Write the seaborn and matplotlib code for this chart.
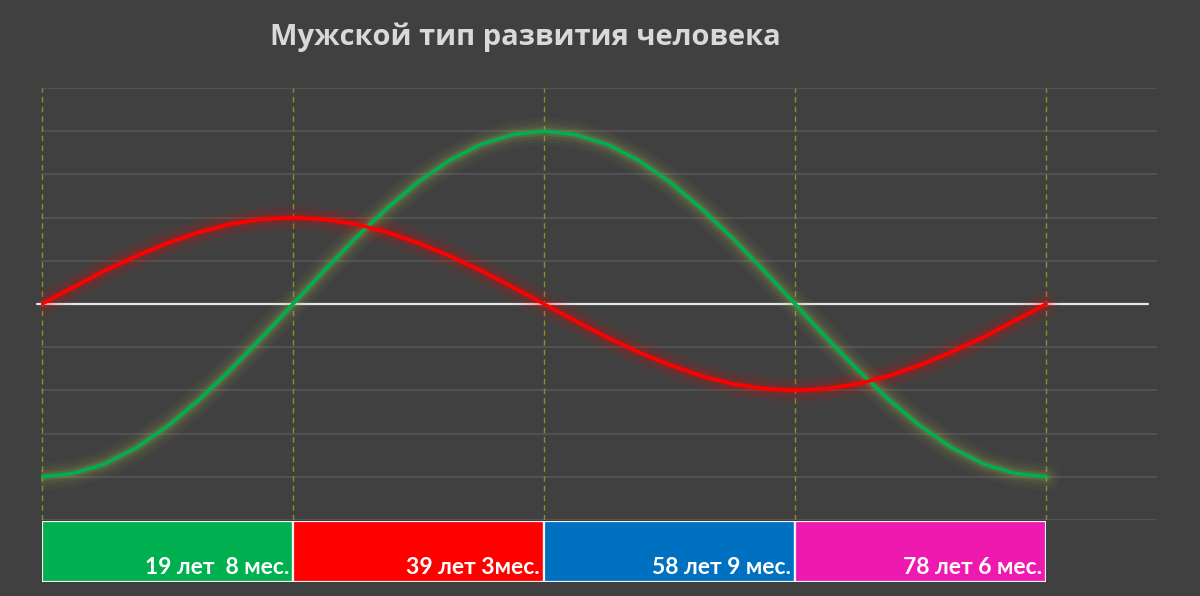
import numpy as np
import pandas as pd
import matplotlib
matplotlib.use("Agg")
import matplotlib.pyplot as plt
import seaborn as sns

# ---- data ----
phase = [i * 0.125 for i in range(33)]  # 0..4, one unit per life period
green_vals = [-4.00, -3.92, -3.70, -3.33, -2.83, -2.22, -1.53, -0.78, 0.00,
              0.78, 1.53, 2.22, 2.83, 3.33, 3.70, 3.92, 4.00,
              3.92, 3.70, 3.33, 2.83, 2.22, 1.53, 0.78, 0.00,
              -0.78, -1.53, -2.22, -2.83, -3.33, -3.70, -3.92, -4.00]
red_vals = [0.00, 0.39, 0.77, 1.11, 1.41, 1.66, 1.85, 1.96, 2.00,
            1.96, 1.85, 1.66, 1.41, 1.11, 0.77, 0.39, 0.00,
            -0.39, -0.77, -1.11, -1.41, -1.66, -1.85, -1.96, -2.00,
            -1.96, -1.85, -1.66, -1.41, -1.11, -0.77, -0.39, 0.00]
period_marks = [0, 1, 2, 3, 4]
box_labels = ["19 лет  8 мес.", "39 лет 3мес.", "58 лет 9 мес.", "78 лет 6 мес."]
box_colors = ["#00B050", "#FF0000", "#0070C0", "#EE1AB0"]
title = "Мужской тип развития человека"

BG = "#404040"
sns.set_theme(style="dark")
plt.rcParams["font.family"] = ["Open Sans", "DejaVu Sans"]

W, H = 1200, 596
fig = plt.figure(figsize=(W / 100, H / 100), dpi=100, facecolor=BG)

# main curve axes: pixel x 41..1157, y 88..520
ax = fig.add_axes([41 / W, (H - 520) / H, (1157 - 41) / W, (520 - 88) / H])
ax.set_facecolor(BG)
for s in ax.spines.values():
    s.set_visible(False)
ax.set_xticks([])
ax.set_yticks([])
ax.grid(False)

# horizontal gridlines
for yv in range(-5, 6):
    if yv != 0:
        ax.axhline(yv, color="#585858", lw=1.1, zorder=1)

# vertical dashed period lines
for xv in period_marks:
    ax.axvline(xv, color="#8E8E22", lw=1.0, ls=(0, (4, 3)), zorder=1)

# zero line
ax.plot([-0.018, 4.406], [0, 0], color="#E6E6E6", lw=1.6, zorder=2, clip_on=False)

df = pd.DataFrame({"phase": phase, "green": green_vals, "red": red_vals})

# glows
for lw, a in [(20, 0.045), (15, 0.06), (10, 0.09), (6, 0.15)]:
    sns.lineplot(data=df, x="phase", y="green", ax=ax, color="#9DBB50", lw=lw,
                 alpha=a, zorder=3, solid_capstyle="round", legend=False)
    sns.lineplot(data=df, x="phase", y="red", ax=ax, color="#FF0000", lw=lw,
                 alpha=a, zorder=3, solid_capstyle="round", legend=False)

sns.lineplot(data=df, x="phase", y="green", ax=ax, color="#00B050", lw=2.6,
             zorder=5, legend=False)
sns.lineplot(data=df, x="phase", y="red", ax=ax, color="#FF0000", lw=2.6,
             zorder=6, legend=False)
ax.set_xlabel("")
ax.set_ylabel("")
ax.set_xlim(-0.004, 4.442)
ax.set_ylim(-5, 5)

# title
fig.text(525 / W, 1 - 37 / H, title, ha="center", va="center",
         color="#D9D9D9", fontsize=21, fontweight="bold")

# boxes axes: pixel x 42..1046, y 521..582
bx = fig.add_axes([42 / W, (H - 582) / H, (1046 - 42) / W, (582 - 521) / H])
bx.set_facecolor(BG)
bdf = pd.DataFrame({"label": box_labels, "v": [1] * 4})
sns.barplot(data=bdf, x="label", y="v", hue="label", palette=box_colors,
            width=1.0, edgecolor="#F2F2F2", linewidth=1.6, ax=bx, legend=False,
            saturation=1)
bx.set_xlim(-0.5, 3.5)
bx.set_ylim(0, 1)
bx.axis("off")
for i, lab in enumerate(box_labels):
    bx.text(i + 0.5 - 0.016, 0.13, lab, ha="right", va="baseline",
            color="white", fontsize=16.5, fontweight="bold",
            family=["Lato", "DejaVu Sans"])

fig.savefig("out.png", dpi=100, facecolor=BG)
